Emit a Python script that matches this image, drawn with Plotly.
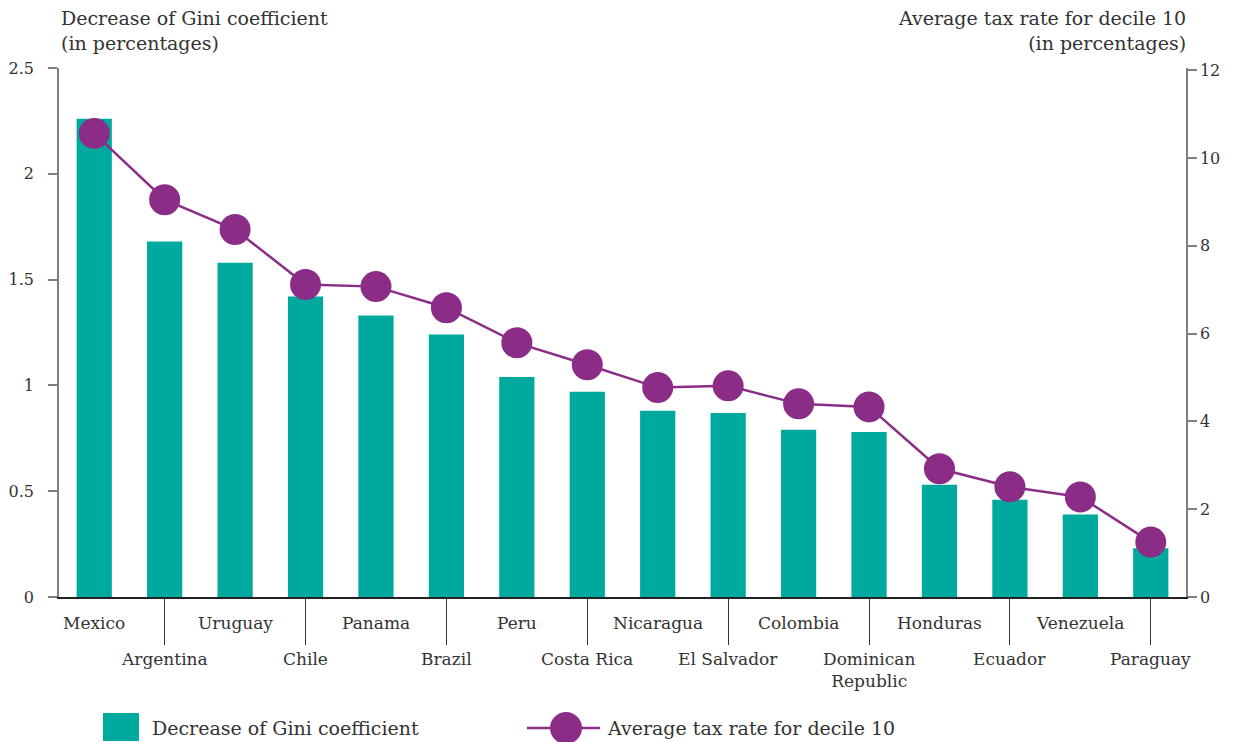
import plotly.graph_objects as go

# Countries, ordered by decrease of the Gini coefficient
countries = ["Mexico", "Argentina", "Uruguay", "Chile", "Panama", "Brazil", "Peru",
             "Costa Rica", "Nicaragua", "El Salvador", "Colombia",
             "Dominican<br>Republic", "Honduras", "Ecuador", "Venezuela", "Paraguay"]
gini_decrease = [2.26, 1.68, 1.58, 1.42, 1.33, 1.24, 1.04, 0.97, 0.88, 0.87,
                 0.79, 0.78, 0.53, 0.46, 0.39, 0.23]
tax_rate_d10 = [10.56, 9.05, 8.37, 7.12, 7.07, 6.59, 5.79, 5.29, 4.77, 4.81,
                4.40, 4.33, 2.92, 2.51, 2.28, 1.25]

left_ticks = [0, 0.5, 1, 1.5, 2, 2.5]
left_ticktext = ["0", "0.5", "1", "1.5", "2", "2.5"]
right_ticks = [0, 2, 4, 6, 8, 10, 12]

TEAL = "#00A99D"
PURPLE = "#8B2D87"
AXIS_GREY = "#7f7f7f"
TEXT = "#333333"
FONT = "DejaVu Serif"

W, H = 1234, 742
L, R, T, B = 59, 48, 68, 145
PW, PH = W - L - R, H - T - B


def px(xp):
    return (xp - L) / PW


def py(yp):
    return (H - B - yp) / PH


x_idx = list(range(len(countries)))

fig = go.Figure()
fig.add_trace(go.Bar(
    x=x_idx, y=gini_decrease, width=0.5, marker=dict(color=TEAL, line_width=0),
    name="Decrease of Gini coefficient", showlegend=False, yaxis="y"))
fig.add_trace(go.Scatter(
    x=x_idx, y=tax_rate_d10, mode="lines+markers", yaxis="y2",
    line=dict(color=PURPLE, width=2.5),
    marker=dict(color=PURPLE, size=31, line_width=0),
    name="Average tax rate for decile 10", showlegend=False))

annotations = []
# Category labels in two staggered rows
for i, name in enumerate(countries):
    second_row = i % 2 == 1
    annotations.append(dict(
        x=i, xref="x", y=0, yref="y", yanchor="top",
        yshift=-(50 if second_row else 14), text=name, showarrow=False,
        font=dict(family=FONT, size=17, color=TEXT), align="center"))

# Axis titles
annotations.append(dict(
    x=px(59), xref="paper", xanchor="left", y=py(5), yref="paper", yanchor="top",
    text="Decrease of Gini coefficient<br>(in percentages)", showarrow=False,
    align="left", font=dict(family=FONT, size=19, color=TEXT)))
annotations.append(dict(
    x=px(1188), xref="paper", xanchor="right", y=py(5), yref="paper", yanchor="top",
    text="Average tax rate for decile 10<br>(in percentages)", showarrow=False,
    align="right", font=dict(family=FONT, size=19, color=TEXT)))

# Legend entries
annotations.append(dict(
    x=px(150), xref="paper", xanchor="left", y=py(728), yref="paper", yanchor="middle",
    text="Decrease of Gini coefficient", showarrow=False,
    font=dict(family=FONT, size=19, color=TEXT)))
annotations.append(dict(
    x=px(605), xref="paper", xanchor="left", y=py(728), yref="paper", yanchor="middle",
    text="Average tax rate for decile 10", showarrow=False,
    font=dict(family=FONT, size=19, color=TEXT)))

shapes = [
    dict(type="rect", xref="paper", yref="paper", x0=px(103), x1=px(139),
         y0=py(741), y1=py(713), fillcolor=TEAL, line_width=0),
    dict(type="line", xref="paper", yref="paper", x0=px(527), x1=px(600),
         y0=py(728), y1=py(728), line=dict(color=PURPLE, width=2.5)),
    dict(type="circle", xref="paper", yref="paper", xsizemode="pixel", ysizemode="pixel",
         xanchor=px(566), yanchor=py(728), x0=-16, x1=16, y0=-16, y1=16,
         fillcolor=PURPLE, line_width=0),
    # small end ticks below the baseline
    dict(type="line", xref="x", yref="y", ysizemode="pixel", yanchor=0,
         x0=-0.5, x1=-0.5, y0=0, y1=-8, line=dict(color=AXIS_GREY, width=1.5)),
    dict(type="line", xref="x", yref="y", ysizemode="pixel", yanchor=0,
         x0=15.5, x1=15.5, y0=0, y1=-8, line=dict(color=AXIS_GREY, width=1.5)),
]

fig.update_layout(
    width=W, height=H,
    margin=dict(l=L, r=R, t=T, b=B, pad=0, autoexpand=False),
    paper_bgcolor="white", plot_bgcolor="white",
    font=dict(family=FONT, color=TEXT),
    xaxis=dict(
        range=[-0.5, 15.5], showgrid=False, zeroline=False, automargin=False,
        showline=True, linecolor="#222222", linewidth=2,
        tickmode="array", tickvals=x_idx[1::2], ticktext=[""] * len(x_idx[1::2]),
        ticks="outside", ticklen=46, tickwidth=1.2, tickcolor="#333333",
        showticklabels=False),
    yaxis=dict(
        range=[0, 2.5], showgrid=False, zeroline=False, automargin=False,
        showline=True, linecolor=AXIS_GREY, linewidth=1.5,
        tickmode="array", tickvals=left_ticks, ticktext=left_ticktext,
        ticks="outside", ticklen=9, tickwidth=1.5, tickcolor=AXIS_GREY,
        ticklabelstandoff=11, tickfont=dict(family=FONT, size=16, color=TEXT)),
    yaxis2=dict(
        range=[0, 12.05], overlaying="y", side="right", showgrid=False, zeroline=False,
        automargin=False,
        showline=True, linecolor=AXIS_GREY, linewidth=1.5,
        tickmode="array", tickvals=right_ticks,
        ticks="outside", ticklen=9, tickwidth=1.5, tickcolor=AXIS_GREY,
        ticklabelstandoff=0, tickfont=dict(family=FONT, size=16, color=TEXT)),
    annotations=annotations,
    shapes=shapes,
    showlegend=False,
    bargap=0.5,
)

fig.write_html("out.html")
